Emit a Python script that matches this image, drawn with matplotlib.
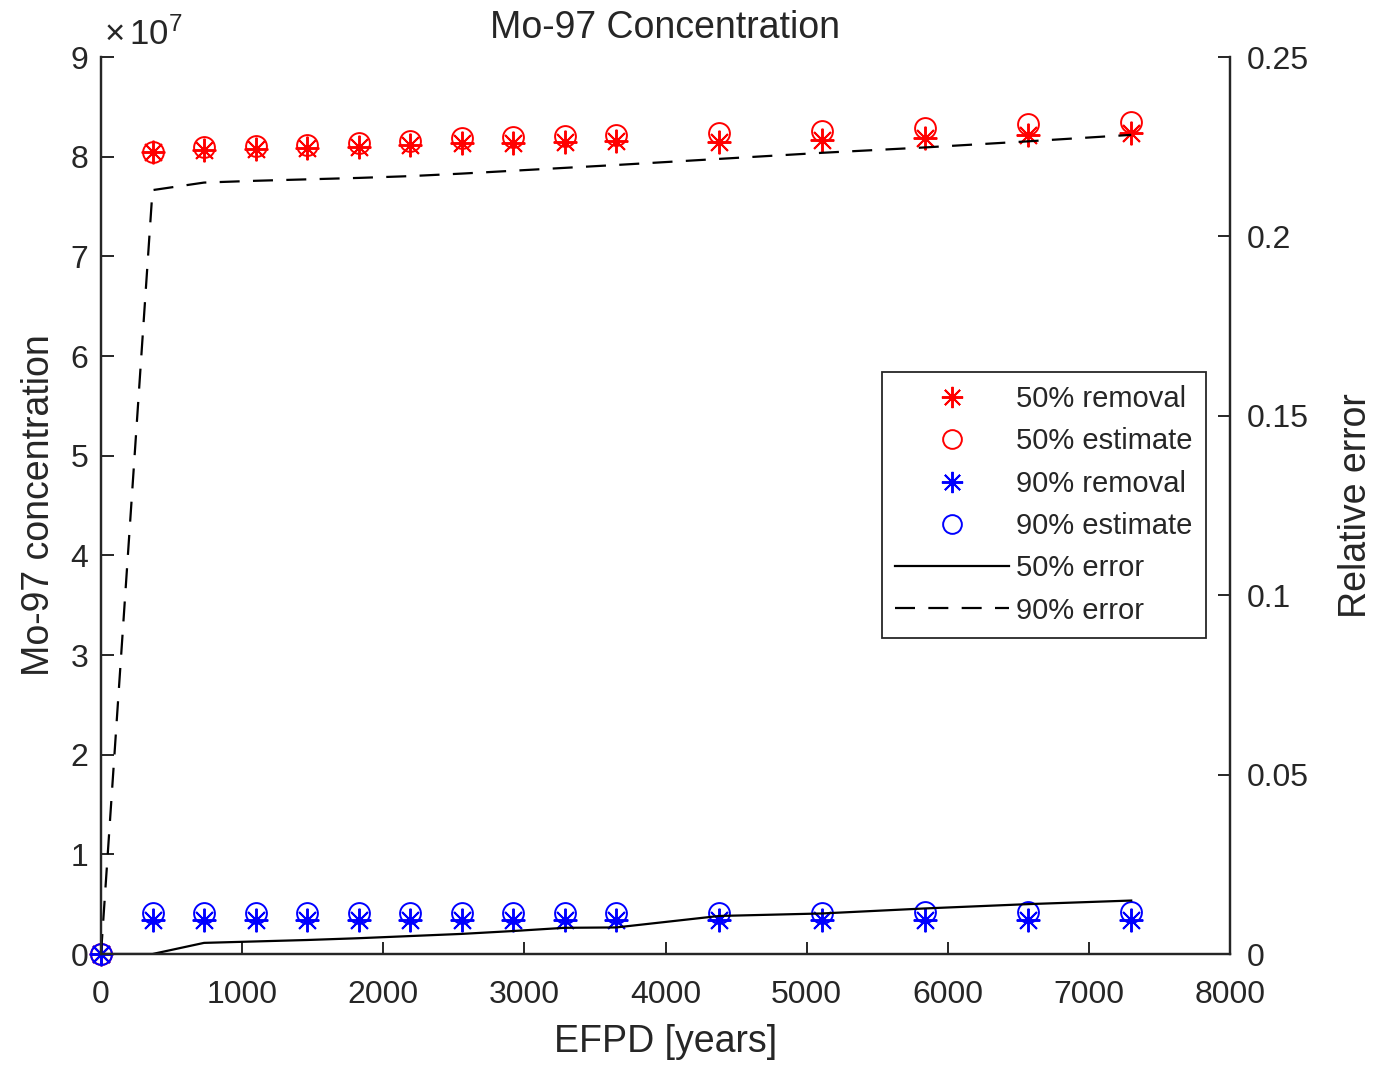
import matplotlib
matplotlib.use("Agg")
import matplotlib.pyplot as plt
from matplotlib.ticker import FuncFormatter, FixedLocator

# Effective full power days at each sample
efpd = [0, 365, 730, 1095, 1460, 1825, 2190, 2555, 2920, 3285, 3650,
        4380, 5110, 5840, 6570, 7300]

# Mo-97 concentration, 50% removal (simulated and estimated)
rem50 = [0, 8.050e7, 8.067e7, 8.077e7, 8.087e7, 8.100e7, 8.118e7, 8.138e7,
         8.141e7, 8.151e7, 8.161e7, 8.151e7, 8.168e7, 8.185e7, 8.218e7, 8.235e7]
est50 = [0, 8.050e7, 8.092e7, 8.105e7, 8.120e7, 8.135e7, 8.160e7, 8.183e7,
         8.198e7, 8.211e7, 8.222e7, 8.240e7, 8.260e7, 8.283e7, 8.330e7, 8.350e7]

# Mo-97 concentration, 90% removal (simulated and estimated)
rem90 = [0, 3.40e6, 3.40e6, 3.40e6, 3.40e6, 3.40e6, 3.40e6, 3.40e6,
         3.40e6, 3.40e6, 3.40e6, 3.40e6, 3.40e6, 3.40e6, 3.40e6, 3.40e6]
est90 = [0, 4.124e6, 4.131e6, 4.133e6, 4.134e6, 4.135e6, 4.137e6, 4.139e6,
         4.142e6, 4.145e6, 4.148e6, 4.153e6, 4.159e6, 4.164e6, 4.170e6, 4.176e6]

# Relative error between estimate and simulation
err50 = [0, 0.0, 0.0031, 0.0035, 0.0039, 0.0044, 0.0050, 0.0056, 0.0064,
         0.0073, 0.0074, 0.0106, 0.0113, 0.0127, 0.0139, 0.0149]
err90 = [0, 0.2129, 0.2150, 0.2155, 0.2159, 0.2163, 0.2168, 0.2175, 0.2183,
         0.2191, 0.2199, 0.2216, 0.2233, 0.2248, 0.2265, 0.2283]

xticks = [0, 1000, 2000, 3000, 4000, 5000, 6000, 7000, 8000]
yticks_left = [0, 1, 2, 3, 4, 5, 6, 7, 8, 9]
yticks_right = [0, 0.05, 0.1, 0.15, 0.2, 0.25]
yticklabels_right = ["0", "0.05", "0.1", "0.15", "0.2", "0.25"]

TXT = "#262626"
plt.rcParams["font.family"] = ["Liberation Sans", "DejaVu Sans"]
plt.rcParams["mathtext.fontset"] = "custom"
plt.rcParams["mathtext.rm"] = "Liberation Sans"
plt.rcParams["mathtext.it"] = "Liberation Sans"

W, H = 1378, 1066
fig = plt.figure(figsize=(W / 100, H / 100), dpi=100)
L, R, T, B = 101, 1230, 57, 954
ax = fig.add_axes([L / W, 1 - B / H, (R - L) / W, (B - T) / H])
ax2 = ax.twinx()

ms_star = 17
ms_circ = 15
asterisk = (8, 2, 0)

h1, = ax.plot(efpd, rem50, linestyle="none", marker=asterisk, ms=ms_star,
              mec="red", mew=1.4, label="50% removal", clip_on=False)
h2, = ax.plot(efpd, est50, linestyle="none", marker="o", ms=ms_circ,
              mfc="none", mec="red", mew=1.4, label="50% estimate",
              clip_on=False)
h3, = ax.plot(efpd, rem90, linestyle="none", marker=asterisk, ms=ms_star,
              mec="blue", mew=1.4, label="90% removal", clip_on=False)
h4, = ax.plot(efpd, est90, linestyle="none", marker="o", ms=ms_circ,
              mfc="none", mec="blue", mew=1.4, label="90% estimate",
              clip_on=False)

h5, = ax2.plot(efpd, err50, color="black", lw=1.6, label="50% error")
h6, = ax2.plot(efpd, err90, color="black", lw=1.6, dashes=(9, 6),
               label="90% error")

ax.set_xlim(0, 8000)
ax.set_ylim(0, 9e7)
ax2.set_ylim(0, 0.25)

ax.xaxis.set_major_locator(FixedLocator(xticks))
ax.yaxis.set_major_locator(FixedLocator([v * 1e7 for v in yticks_left]))
ax.yaxis.set_major_formatter(FuncFormatter(lambda v, p: f"{v / 1e7:.0f}"))
ax2.yaxis.set_major_locator(FixedLocator(yticks_right))
ax2.set_yticklabels(yticklabels_right)

for a in (ax, ax2):
    for s in a.spines.values():
        s.set_color(TXT)
        s.set_linewidth(1.6)
    a.spines["top"].set_visible(False)
    a.tick_params(direction="in", length=9, width=1.4, colors=TXT,
                  labelsize=23)

ax.tick_params(axis="x", pad=19)
ax.tick_params(axis="y", pad=9)
ax2.tick_params(axis="y", pad=12)

ax.set_title("Mo-97 Concentration", fontsize=27, color=TXT, pad=14)
ax.set_xlabel("EFPD [years]", fontsize=27, color=TXT, labelpad=10)
ax.set_ylabel("Mo-97 concentration", fontsize=27, color=TXT, labelpad=10)
ax2.set_ylabel("Relative error", fontsize=27, color=TXT, rotation=90,
               labelpad=21)

ax.text(0.003, 1.006, r"$\times\,10^{7}$", transform=ax.transAxes,
        fontsize=25, color=TXT, ha="left", va="bottom")

leg = ax2.legend(handles=[h1, h2, h3, h4, h5, h6], loc="upper right",
                 bbox_to_anchor=(1206 / W, 1 - 372 / H),
                 bbox_transform=fig.transFigure, borderaxespad=0,
                 fontsize=21, frameon=True, fancybox=False, framealpha=1,
                 edgecolor=TXT, handlelength=3.9, handletextpad=0.25,
                 labelspacing=0.49, borderpad=0.45, numpoints=1,
                 markerscale=0.9)
leg.get_frame().set_linewidth(1.3)
for t in leg.get_texts():
    t.set_color(TXT)

fig.savefig("out.png", dpi=100, facecolor="white")
